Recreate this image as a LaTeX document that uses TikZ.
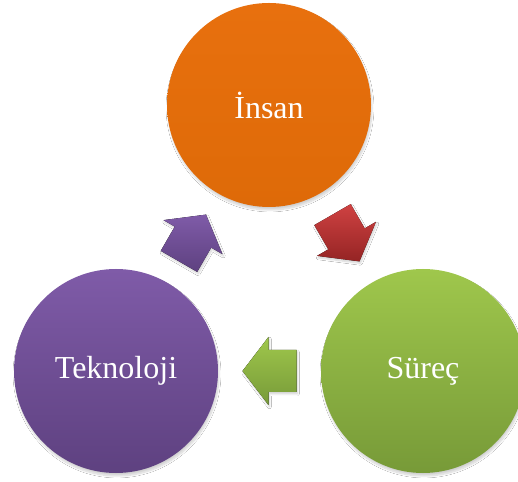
\documentclass[tikz,border=0pt]{standalone}
\usepackage{fontspec}
\setmainfont{Liberation Serif}
\usetikzlibrary{calc,shadows.blur}

% block arrow centred on coordinate #1, pointing at angle #2, shaded #3 -> #4
\newcommand\blockarrow[4]{%
  \fill[top color=#3, bottom color=#4, blur shadow={shadow blur steps=6, shadow xshift=1pt, shadow yshift=-2pt, shadow opacity=18}]
    ($(#1)+(#2+180:27)+(#2-90:21)$) --
    ($(#1)+(#2:1)+(#2-90:21)$) --
    ($(#1)+(#2:1)+(#2-90:34)$) --
    ($(#1)+(#2:27)$) --
    ($(#1)+(#2:1)+(#2+90:34)$) --
    ($(#1)+(#2:1)+(#2+90:21)$) --
    ($(#1)+(#2+180:27)+(#2+90:21)$) -- cycle;}

\definecolor{orangeT}{HTML}{E8700E}
\definecolor{orangeB}{HTML}{DE6A08}
\definecolor{greenT}{HTML}{9FC74C}
\definecolor{greenB}{HTML}{779A38}
\definecolor{purpleT}{HTML}{7F5BA8}
\definecolor{purpleB}{HTML}{5E4180}
\definecolor{redT}{HTML}{CF4242}
\definecolor{redB}{HTML}{952424}

\tikzset{
  bubble/.style={circle, minimum size=204pt, inner sep=0pt, text=white,
    font=\fontsize{32pt}{38pt}\selectfont,
    blur shadow={shadow blur steps=10, shadow xshift=1pt, shadow yshift=-3pt, shadow opacity=18}},
}

\begin{document}
\begin{tikzpicture}[x=1pt,y=1pt]
  \clip (0,0) rectangle (518,481);
  \fill[white] (0,0) rectangle (518,481);

  \node[bubble, top color=orangeT, bottom color=orangeB] (insan) at (269,376) {İnsan};
  \node[bubble, top color=greenT, bottom color=greenB] (surec) at (423,110) {Süreç};
  \node[bubble, top color=purpleT, bottom color=purpleB] (tekno) at (116,110) {Teknoloji};

  \coordinate (a1) at ($(insan)!0.5!(surec)$);
  \coordinate (a2) at ($(surec)!0.5!(tekno)$);
  \coordinate (a3) at ($(tekno)!0.5!(insan)$);

  \blockarrow{a1}{-60}{redT}{redB}
  \blockarrow{a2}{180}{greenT}{greenB}
  \blockarrow{a3}{60}{purpleT}{purpleB}
\end{tikzpicture}
\end{document}
